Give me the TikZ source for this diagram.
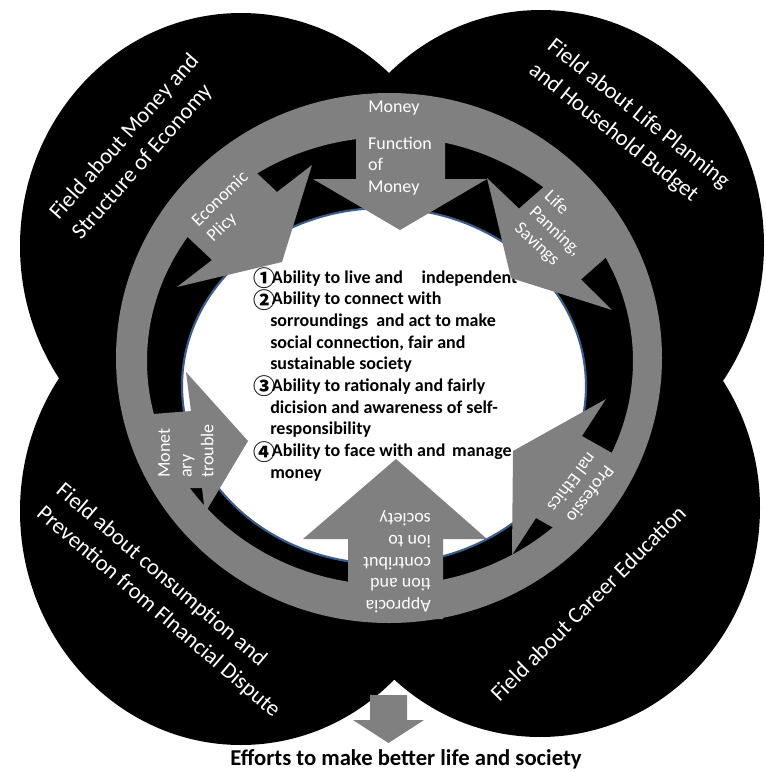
\documentclass[tikz,border=0pt]{standalone}
\usepackage{fontspec}
\setmainfont{Carlito}
\newfontfamily\cjkfont{Noto Sans CJK JP}
\newcommand{\circnum}[1]{\makebox[14pt][l]{\raisebox{-2.6pt}{\fontsize{16.5}{16.5}\cjkfont #1}}}
\definecolor{grayc}{RGB}{128,128,128}
\definecolor{rimblue}{RGB}{56,93,138}
\begin{document}
\begin{tikzpicture}[x=0.75pt,y=-0.75pt,
  blob/.style={fill=black},
  ringband/.style={fill=grayc,even odd rule},
  blockarrow/.style={fill=grayc},
  fieldlabel/.style={text=white,font=\fontsize{17}{22.5}\selectfont,align=left,inner sep=0pt},
  arrowlabel/.style={text=white,font=\fontsize{13.5}{16.3}\selectfont,align=left,inner sep=0pt},
  listline/.style={anchor=base west,font=\bfseries\fontsize{13.5}{16.3}\selectfont,inner sep=0pt}]
\fill[white] (0,0) rectangle (766,772);
\useasboundingbox (0,0) rectangle (766,772);
% four black fields
\fill[blob] (241,246) ellipse [x radius=221,y radius=233];
\fill[blob] (541,245) ellipse [x radius=223,y radius=235];
\fill[blob] (241,511) ellipse [x radius=221,y radius=234];
\fill[blob] (540,508) ellipse [x radius=220,y radius=229];
% gray ring
\fill[ringband] (389,358) ellipse [x radius=273,y radius=265] (390,361) ellipse [x radius=243,y radius=224];
% inner ellipse
\draw[rimblue,line width=1.6pt,fill=white] (384,386) ellipse [x radius=202,y radius=178];
% list text
\node[listline] (l1) at (253,283) {\circnum{①}Ability to live and\hspace{14pt}independent};
\node[listline] (l2) at (253,304.7) {\circnum{②}Ability to connect with};
\node[listline] (l3) at (270,326.4) {sorroundings\hspace{3pt} and act to make};
\node[listline] (l4) at (270,348.1) {social connection, fair and};
\node[listline] (l5) at (270,369.8) {sustainable society};
\node[listline] (l6) at (253,391.5) {\circnum{③}Ability to rationaly and fairly};
\node[listline] (l7) at (270,413.2) {dicision and awareness of self-};
\node[listline] (l8) at (270,434.9) {responsibility};
\node[listline] (l9) at (253,456.6) {\circnum{④}Ability to face with and\hspace{2pt} manage};
\node[listline] (l10) at (270,478.3) {money};
% block arrows
\fill[blockarrow] (356,100) -- (356,179) -- (313,179) -- (400,230) -- (487,179) -- (445,179) -- (445,100) -- cycle;
\fill[blockarrow] (233.5,151) -- (277,192) -- (312,165) -- (282,262) -- (177,287) -- (212,260) -- (168.5,219) -- cycle;
\fill[blockarrow] (564,169) -- (519,208.6) -- (487,178) -- (511,278) -- (612,310) -- (581,279.4) -- (626,240) -- cycle;
\fill[blockarrow] (140,415) -- (191,411) -- (186,372) -- (248,441) -- (205,513) -- (202,488) -- (168,488) -- cycle;
\fill[blockarrow] (621.3,458.2) -- (582,436) -- (606,399) -- (513,451) -- (512,555) -- (536,518) -- (575.1,540) -- cycle;
\fill[blockarrow] (348,619) -- (348,539) -- (303,539) -- (396,459) -- (487,539) -- (443,539) -- (443,619) -- cycle;
% arrow labels
\node[arrowlabel,anchor=west] (ringmoney) at (368,108) {Money};
\node[arrowlabel] (function) at (400,166) {Function\\of\\Money};
\node[arrowlabel,rotate=44] (economic) at (228,207) {Economic\\Plicy};
\node[arrowlabel,rotate=-43] (life) at (555,232) {Life\\Panning,\\Savings};
\node[arrowlabel,rotate=90] (monetary) at (186,451) {Monet\\ary\\trouble};
\node[arrowlabel,rotate=-127] (ethics) at (581,489) {Professio\\nal Ethics};
\node[arrowlabel,rotate=180] (apprec) at (397,562) {Approcia\\tion and\\contribut\\ion to\\society};
% field labels
\node[fieldlabel,rotate=48.5] (f1) at (136,147) {Field about Money and\\Structure of Economy};
\node[fieldlabel,rotate=-38.5] (f2) at (629,126) {Field about Life Planning\\and Household Budget};
\node[fieldlabel,rotate=-40.5] (f3) at (168,601) {Field about consumption and\\Prevention from FInancial Dispute};
\node[fieldlabel,rotate=45] (f4) at (588,603) {Field about Career Education};
% bottom arrow and text
\fill[blockarrow] (370,695) -- (407,695) -- (407,720) -- (424,720) -- (388.5,743) -- (353,720) -- (370,720) -- cycle;
\node[anchor=base,inner sep=0pt,font=\bfseries\fontsize{17}{20}\selectfont] (efforts) at (406,765) {Efforts to make better life and society};
\end{tikzpicture}
\end{document}
